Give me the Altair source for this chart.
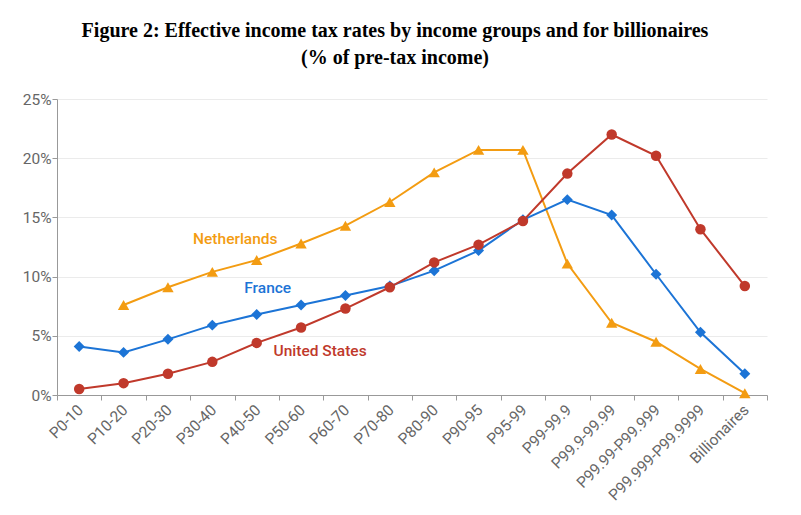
import altair as alt
import pandas as pd

categories = ["P0-10", "P10-20", "P20-30", "P30-40", "P40-50", "P50-60", "P60-70",
              "P70-80", "P80-90", "P90-95", "P95-99", "P99-99.9", "P99.9-99.99",
              "P99.99-P99.999", "P99.999-P99.9999", "Billionaires"]

france = [4.1, 3.6, 4.7, 5.9, 6.8, 7.6, 8.4, 9.2, 10.5, 12.2, 14.8, 16.5, 15.2, 10.2, 5.3, 1.8]
united_states = [0.5, 1.0, 1.8, 2.8, 4.4, 5.7, 7.3, 9.1, 11.2, 12.7, 14.7, 18.7, 22.0, 20.2, 14.0, 9.2]
netherlands = [None, 7.6, 9.1, 10.4, 11.4, 12.8, 14.3, 16.3, 18.8, 20.7, 20.7, 11.1, 6.1, 4.5, 2.2, 0.15]

series_names = ["Netherlands", "France", "United States"]
series_colors = ["#f39c12", "#1c74d6", "#c0392b"]
series_shapes = ["triangle-up", "diamond", "circle"]

label_cats = ["P30-40", "P40-50", "P50-60"]
label_vals = [13.2, 9.0, 3.7]
label_dx = [23, 11, 19]

rows = []
for name, vals in zip(series_names, [netherlands, france, united_states]):
    for c, v in zip(categories, vals):
        if v is not None:
            rows.append({"series": name, "group": c, "value": v})
df = pd.DataFrame(rows)

lab = pd.DataFrame({"series": series_names, "group": label_cats, "value": label_vals, "dx": label_dx})

x_enc = alt.X("group:N", sort=categories, bandPosition=0.5,
              scale=alt.Scale(type="band", paddingInner=0, paddingOuter=0),
              axis=alt.Axis(title=None, labelAngle=-45, labelAlign="right", labelBaseline="top",
                            tickBand="extent", grid=False, labelPadding=2, labelOffset=-4))
y_enc = alt.Y("value:Q", scale=alt.Scale(domain=[0, 25], nice=False),
              axis=alt.Axis(title=None, values=[0, 5, 10, 15, 20, 25],
                            labelExpr="datum.value + '%'", grid=True, tickSize=5, labelPadding=1))
color_enc = alt.Color("series:N", scale=alt.Scale(domain=series_names, range=series_colors), legend=None)

base = alt.Chart(df)
lines = base.mark_line(strokeWidth=2).encode(x=x_enc, y=y_enc, color=color_enc, detail="series:N")
points = base.mark_point(filled=True, opacity=1).encode(
    x=alt.X("group:N", sort=categories, bandPosition=0.5),
    y="value:Q",
    color=color_enc,
    shape=alt.Shape("series:N", scale=alt.Scale(domain=series_names, range=series_shapes), legend=None),
    size=alt.Size("series:N", scale=alt.Scale(domain=series_names, range=[130, 110, 120]), legend=None),
)

texts = []
for i, name in enumerate(series_names):
    texts.append(
        alt.Chart(lab[lab.series == name]).mark_text(
            font="Roboto", fontSize=15.5, fontWeight=500, dx=label_dx[i], align="center", baseline="middle"
        ).encode(
            x=alt.X("group:N", sort=categories, bandPosition=0.5),
            y="value:Q",
            text="series:N",
            color=color_enc,
        )
    )

chart = alt.layer(lines, points, *texts).properties(
    width=710,
    height=296,
    autosize=alt.AutoSizeParams(type="none"),
    padding={"left": 57, "top": 99, "right": 34, "bottom": 120},
    title=alt.TitleParams(
        text=["Figure 2: Effective income tax rates by income groups and for billionaires",
              "(% of pre-tax income)"],
        font="Liberation Serif", fontSize=20, fontWeight="bold", color="#000000",
        lineHeight=27, anchor="middle", dx=-17, offset=24,
    ),
).configure_view(stroke=None).configure_axis(
    labelFont="Roboto", labelFontSize=15.5, labelColor="#666666",
    domainColor="#999999", tickColor="#999999", gridColor="#ebebeb",
)

chart.save("out.html", embed_options={"renderer": "svg", "actions": False})
